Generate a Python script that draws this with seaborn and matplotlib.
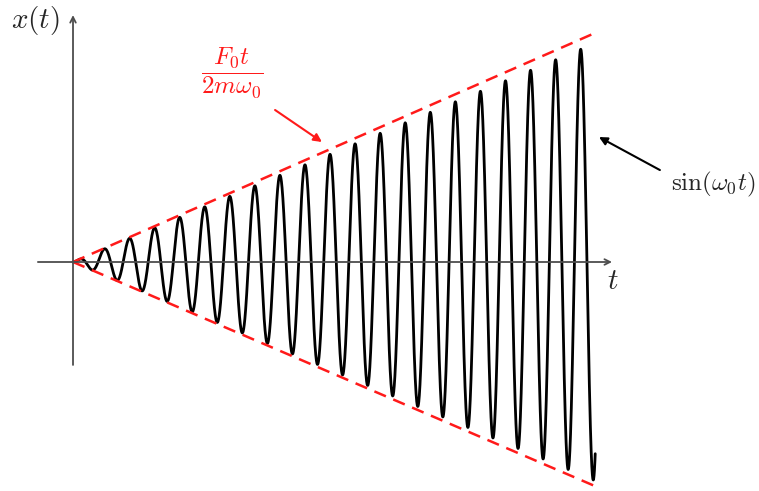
import numpy as np
import pandas as pd
import seaborn as sns
import matplotlib.pyplot as plt

t_end = 20.83            # the curve stops just after its last trough
amp = 0.955              # peaks stay a little inside the dashed envelope
env_t = [0.0, 20.90]
env_top = [0.0, 20.90]
env_bottom = [0.0, -20.45]

labels = {
    "y": r"$x(t)$",
    "x": r"$t$",
    "envelope": r"$\dfrac{F_0t}{2m\omega_0}$",
    "wave": r"$\sin(\omega_0t)$",
}

# resonance response x(t) = t sin(w0 t)
t = np.linspace(0, t_end, 4000)
df = pd.DataFrame({"t": t, "x": amp * t * np.sin(2 * np.pi * t)})
env = pd.DataFrame({"t": env_t + env_t, "x": env_top + env_bottom,
                    "side": ["top", "top", "bottom", "bottom"]})

sns.set_style("white")
plt.rcParams["mathtext.fontset"] = "cm"

fig = plt.figure(figsize=(7.59, 4.91), dpi=100)
ax = fig.add_axes([0, 0, 1, 1])
ax.set_xlim(-2.912, 27.363)
ax.set_ylim(-20.82, 23.82)
ax.axis("off")

axis_col = "#4d4d4d"
ax.annotate("", xy=(21.5, 0), xytext=(-1.4, 0),
            arrowprops=dict(arrowstyle="->", color=axis_col, lw=1.3,
                            shrinkA=0, shrinkB=0))
ax.annotate("", xy=(0, 22.45), xytext=(0, -9.36),
            arrowprops=dict(arrowstyle="->", color=axis_col, lw=1.3,
                            shrinkA=0, shrinkB=0))

sns.lineplot(data=df, x="t", y="x", color="black", lw=2, ax=ax,
             sort=False, estimator=None)
for side, g in env.groupby("side"):
    ax.plot(g["t"], g["x"], color="#ff1a1a", lw=1.8, ls=(0, (5, 3.2)))

ax.text(-1.48, 22.0, labels["y"], fontsize=21, ha="center", va="center")
ax.text(21.54, -1.73, labels["x"], fontsize=21, ha="center", va="center")

ax.text(6.34, 17.18, labels["envelope"], fontsize=18, color="#ff1a1a",
        ha="center", va="center")
ax.annotate("", xy=(9.93, 10.91), xytext=(8.06, 13.82),
            arrowprops=dict(arrowstyle="-|>", color="#ff1a1a", lw=1.5,
                            mutation_scale=12, shrinkA=0, shrinkB=0))
ax.text(23.84, 7.09, labels["wave"], fontsize=18, ha="left", va="center")
ax.annotate("", xy=(20.98, 11.36), xytext=(23.41, 8.36),
            arrowprops=dict(arrowstyle="-|>", color="black", lw=1.5,
                            mutation_scale=12, shrinkA=0, shrinkB=0))

fig.savefig("out.png", dpi=100)
